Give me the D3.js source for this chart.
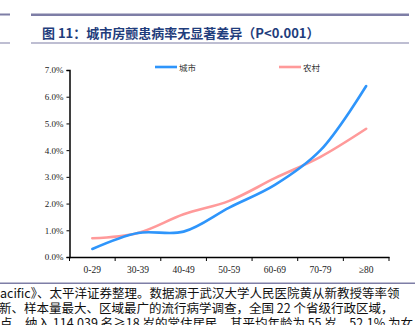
<!DOCTYPE html>
<html><head><meta charset="utf-8">
<script src="https://cdn.jsdelivr.net/npm/d3@7"></script>
<style>
html,body{margin:0;padding:0;background:#fff;overflow:hidden;}
svg{display:block;}
</style></head>
<body>
<script>
const categories = ["0-29","30-39","40-49","50-59","60-69","70-79","≥80"];
const urban = [0.30, 0.90, 0.95, 1.85, 2.70, 4.00, 6.40];
const rural = [0.70, 0.90, 1.60, 2.10, 2.95, 3.75, 4.80];
const yTicks = [0,1,2,3,4,5,6,7];
const seriesNames = ["城市","农村"];
const colors = ["#2E95FB","#FF9A9A"];
const titleText = "图 11：城市房颤患病率无显著差异（P<0.001）";
const sourceLines = [
  "acific》、太平洋证券整理。数据源于武汉大学人民医院黄从新教授等率领",
  "新、样本量最大、区域最广的流行病学调查，全国 22 个省级行政区域，",
  "点，纳入 114,039 名≥18 岁的常住居民，其平均年龄为 55 岁，52.1% 为女"
];

const W = 415, H = 325;
const svg = d3.select("body").append("svg").attr("width", W).attr("height", H);
const frame = "#7E7EA6";

// header lines
svg.append("rect").attr("x",0).attr("y",13.5).attr("width",10).attr("height",2).attr("fill",frame);
svg.append("rect").attr("x",31).attr("y",13.5).attr("width",378).attr("height",2.5).attr("fill",frame);
svg.append("rect").attr("x",0).attr("y",42.5).attr("width",10).attr("height",1).attr("fill",frame);
svg.append("rect").attr("x",31).attr("y",42.5).attr("width",378).attr("height",1).attr("fill",frame);
svg.append("text").attr("x",42).attr("y",38)
  .attr("font-family","'Noto Sans CJK SC', 'Liberation Serif', serif")
  .attr("font-weight","bold").attr("font-size",13).attr("fill","#1F3D7C")
  .text(titleText);

// scales
const x = d3.scaleBand().domain(categories).range([69.5, 389]).padding(0);
const y = d3.scaleLinear().domain([0,7]).range([257, 70]);
const cx = c => x(c) + x.bandwidth()/2;

const g = svg.append("g");
// y axis
const yAxis = d3.axisLeft(y).tickValues(yTicks).tickSize(3).tickFormat(d => d3.format(".1f")(d) + "%");
const ya = g.append("g").attr("transform","translate(69.5,0)").call(yAxis);
ya.select(".domain").attr("stroke","#000").attr("stroke-width",1.5);
ya.selectAll(".tick line").attr("stroke","#000").attr("stroke-width",1);
ya.selectAll(".tick text").attr("x",-6).attr("font-family","'Liberation Serif', serif").attr("font-size",9).attr("fill","#222");

// x axis
const xAxis = d3.axisBottom(x).tickSize(0).tickPadding(9);
const xa = g.append("g").attr("transform","translate(0,257)").call(xAxis);
xa.select(".domain").attr("stroke","#000").attr("stroke-width",1.5);
xa.selectAll(".tick text").attr("font-family","'Liberation Serif', serif").attr("font-size",9.5).attr("fill","#222");
const bounds = categories.map(c => x(c)).concat([x(categories[categories.length-1]) + x.bandwidth()]);
g.selectAll("line.xt").data(bounds).enter().append("line")
  .attr("x1",d=>d).attr("x2",d=>d).attr("y1",257).attr("y2",261)
  .attr("stroke","#000").attr("stroke-width",1);

// lines
const line = d3.line().x((d,i)=>cx(categories[i])).y(d=>y(d)).curve(d3.curveCatmullRom.alpha(0.5));
[rural, urban].forEach((s, k) => {
  const idx = k === 0 ? 1 : 0;
  g.append("path").datum(s).attr("d", line).attr("fill","none")
    .attr("stroke", colors[idx]).attr("stroke-width", 2.6).attr("stroke-linecap","round");
});

// legend
const lg = [{x:155, name:seriesNames[0], c:colors[0]},{x:279, name:seriesNames[1], c:colors[1]}];
lg.forEach(l => {
  svg.append("line").attr("x1",l.x).attr("x2",l.x+22).attr("y1",67).attr("y2",67)
    .attr("stroke",l.c).attr("stroke-width",2.6);
  svg.append("text").attr("x",l.x+24).attr("y",70.5)
    .attr("font-family","'Noto Sans CJK SC', sans-serif").attr("font-size",8.5).attr("fill","#333")
    .text(l.name);
});

// bottom separator & source
svg.append("rect").attr("x",0).attr("y",282.5).attr("width",415).attr("height",1.5).attr("fill",frame);
const srcX = [0, -1, 0];
const srcY = [298, 313, 328];
sourceLines.forEach((t,i) => {
  svg.append("text").attr("x",srcX[i]).attr("y",srcY[i])
    .attr("font-family","'Noto Sans CJK SC', 'Liberation Serif', serif").attr("font-size",12.5).attr("fill","#111")
    .text(t);
});
</script>
</body></html>
